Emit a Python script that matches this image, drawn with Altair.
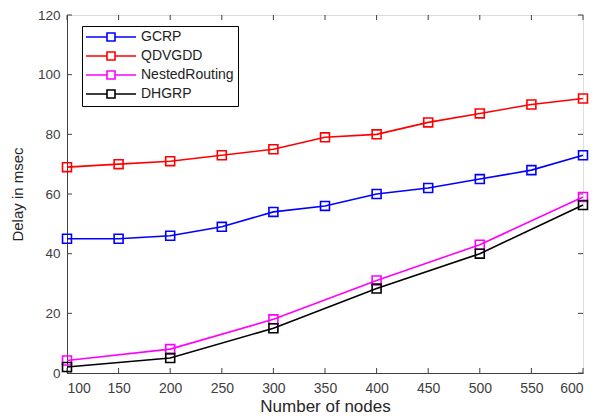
import altair as alt
import pandas as pd

series_names = ["GCRP", "QDVGDD", "NestedRouting", "DHGRP"]
series_colors = ["#0000ff", "#ff0000", "#ff00ff", "#000000"]

x_full = [100, 150, 200, 250, 300, 350, 400, 450, 500, 550, 600]
gcrp = [45, 45, 46, 49, 54, 56, 60, 62, 65, 68, 73]
qdvgdd = [69, 70, 71, 73, 75, 79, 80, 84, 87, 90, 92]

x_sparse = [100, 200, 300, 400, 500, 600]
nested = [4.2, 8, 18, 31, 43, 59]
dhgrp = [2, 5, 15, 28.3, 40, 56.3]

x_ticks = [100, 150, 200, 250, 300, 350, 400, 450, 500, 550, 600]
y_ticks = [0, 20, 40, 60, 80, 100, 120]

rows = []
for xs, ys, name in [(x_full, gcrp, "GCRP"), (x_full, qdvgdd, "QDVGDD"),
                     (x_sparse, nested, "NestedRouting"), (x_sparse, dhgrp, "DHGRP")]:
    for xv, yv in zip(xs, ys):
        rows.append({"nodes": xv, "delay": yv, "series": name})
df = pd.DataFrame(rows)

W, H = 516, 358
font = "Liberation Sans"
gray = "#404040"

xscale = alt.Scale(domain=[100, 600], nice=False)
yscale = alt.Scale(domain=[0, 120], nice=False)
color = alt.Color("series:N", scale=alt.Scale(domain=series_names, range=series_colors),
                  sort=series_names,
                  legend=alt.Legend(title=None, orient="none", legendX=15, legendY=11,
                                    symbolType="M-5,0H-0.8M0.8,0H5M-0.8,-0.8H0.8V0.8H-0.8Z",
                                    symbolSize=100, symbolStrokeWidth=1.6,
                                    symbolFillColor="transparent", symbolOffset=18,
                                    labelFont=font, labelFontSize=14, labelColor="#222222",
                                    rowPadding=3, padding=4, strokeColor="#000000",
                                    fillColor="white", labelOffset=23))

base = alt.Chart(df)
lines = base.mark_line(strokeWidth=1.6).encode(
    x=alt.X("nodes:Q", scale=xscale,
            axis=alt.Axis(values=x_ticks, title="Number of nodes", tickSize=0, labelPadding=8,
                          grid=False, domainColor=gray, labelColor=gray, titleColor="#262626",
                          labelFont=font, titleFont=font, labelFontSize=14, titleFontSize=17,
                          titleFontWeight="normal", titlePadding=3)),
    y=alt.Y("delay:Q", scale=yscale,
            axis=alt.Axis(values=y_ticks, title="Delay in msec", tickSize=0, labelPadding=7,
                          grid=False, domainColor=gray, labelColor=gray, titleColor="#262626",
                          labelFont=font, titleFont=font, labelFontSize=13.5, titleFontSize=15,
                          titleFontWeight="normal", titlePadding=12)),
    color=color,
)
points = base.mark_point(shape="square", filled=False, size=80, strokeWidth=1.6, opacity=1).encode(
    x=alt.X("nodes:Q", scale=xscale),
    y=alt.Y("delay:Q", scale=yscale),
    color=alt.Color("series:N", scale=alt.Scale(domain=series_names, range=series_colors), legend=None),
)

xt = pd.DataFrame({"v": x_ticks})
yt = pd.DataFrame({"v": y_ticks})
tick_style = dict(color=gray, strokeWidth=1)
xt_bottom = alt.Chart(xt).mark_rule(**tick_style).encode(
    x=alt.X("v:Q", scale=xscale), y=alt.value(H), y2=alt.value(H - 5))
xt_top = alt.Chart(xt).mark_rule(**tick_style).encode(
    x=alt.X("v:Q", scale=xscale), y=alt.value(0), y2=alt.value(5))
yt_left = alt.Chart(yt).mark_rule(**tick_style).encode(
    y=alt.Y("v:Q", scale=yscale), x=alt.value(0), x2=alt.value(5))
yt_right = alt.Chart(yt).mark_rule(**tick_style).encode(
    y=alt.Y("v:Q", scale=yscale), x=alt.value(W), x2=alt.value(W - 5))

chart = alt.layer(xt_bottom, xt_top, yt_left, yt_right, lines, points).resolve_scale(
    color="independent"
).properties(
    width=W, height=H,
    autosize=alt.AutoSizeParams(type="none"),
    padding={"left": 59, "top": 7, "right": 6, "bottom": 46},
).configure_view(stroke=gray, strokeWidth=1).configure(background="white")

chart.save("out.html", embed_options={"renderer": "svg", "actions": False})
